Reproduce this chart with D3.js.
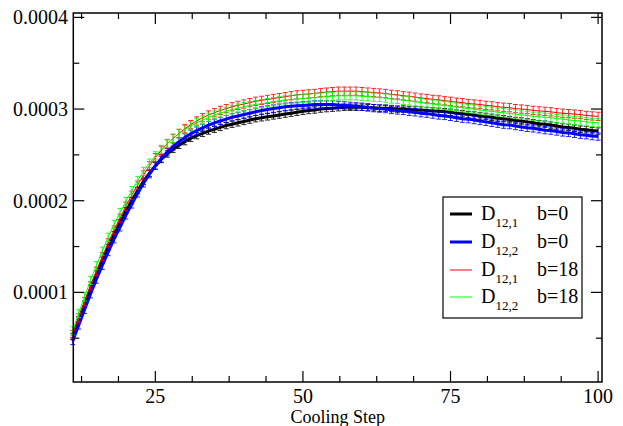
<!DOCTYPE html>
<html><head><meta charset="utf-8">
<script src="https://cdn.jsdelivr.net/npm/d3@7"></script>
<style>body{margin:0;background:#fff}svg{display:block}</style>
</head><body><svg id="c" width="623" height="426"></svg>
<script>
const FONT = "'Liberation Serif', 'DejaVu Serif', 'Times New Roman', Times, serif";
const UNIT = 1e-6;
const steps = d3.range(11, 101);
const d121_b0 = [52,70,87,104,120,135,149,163,176,189,
 200,211,221,230,238,245,251,256,260.5,264.5,
 268,271,273.5,276,278,280,282,283.5,285,286.5,
 288,289.5,290.5,291.5,292.5,293.5,294.5,295.5,296.5,297.5,
 298.5,299,300,300.5,301,301.5,302,302,302,302,
 301.5,301.5,301,301,300.5,300,300,299.5,299,299,
 298.5,298,297.5,297,296.5,295.5,295,294,293.5,292.5,
 292,291,290,289.5,288.5,287.5,287,286,285,284,
 283.5,282.5,281.5,280.5,280,279,278,277.5,276.5,276];
const d122_b0 = [47,64,81,98,114,129,144,158,171,184,
 196,208,219,229,238,246,253,259,264.5,269,
 273,276.5,279.5,282.5,285,287,289,291,292.5,294,
 295.5,297,298.5,299.5,300.5,301.5,302.5,303,303.5,304,
 304.5,305,305,305,305,304.5,304,303.5,303,302.5,
 302,301,300.5,300,299,298.5,298,297,296.5,295.5,
 295,294,293,292.5,291.5,290.5,289.5,289,288,287,
 286,285,284,283,282.5,281.5,280.5,279.5,279,278,
 277,276.5,275.5,274.5,274,273,272,271.5,270.5,270];
const d121_b18 = [54,72,90,107,123,139,154,168,181,194,
 206,217,228,238,247,255,262,268,273.5,278.5,
 283,287,290.5,293.5,296,298.5,300.5,302.5,304,305.5,
 307,308.5,309.5,310.5,311.5,312.5,313.5,314.5,315.5,316,
 316.5,317,318,318.5,319,319.5,319.5,319.5,319.5,319,
 318.5,318,317.5,317,316,315.5,314.5,314,313,312,
 311.5,310.5,310,309,308.5,307.5,307,306,305.5,305,
 304,303.5,302.5,302,301.5,300.5,300,299.5,298.5,298,
 297.5,297,296,295.5,295,294.5,294,293,292.5,292];
const d122_b18 = [58,77,95,113,129,145,160,174,187,199,
 211,222,232,241,249,256,262.5,268,273,277.5,
 281.5,285,288,291,293.5,295.5,297.5,299.5,301,302.5,
 304,305,306,307,308,309,310,310.5,311,311.5,
 312,312.5,313,313.5,314,314.5,314.5,314.5,314.5,314,
 313.5,313,312.5,312,311,310.5,309.5,309,308,307,
 306,305.5,304.5,304,303,302,301.5,300.5,300,299,
 298,297.5,296.5,296,295,294.5,293.5,293,292,291.5,
 291,290.5,289.5,289,288,287.5,287,286,285.5,285];
const errs = [3.5, 4, 4.5, 4.5];
const seriesNames = ["D12,1 b=0","D12,2 b=0","D12,1 b=18","D12,2 b=18"];
const legendSub = ["12,1","12,2","12,1","12,2"];
const legendB = ["b=0","b=0","b=18","b=18"];
const colors = ["#000000","#0000ff","#ff0000","#00ff00"];
const widths = [3, 3, 1, 1];
const xTicks = [25, 50, 75, 100];
const xMinor = [12.5,18.75,31.25,37.5,43.75,56.25,62.5,68.75,81.25,87.5,93.75];
const yTicks = [100, 200, 300, 400];
const yTickLabels = ["0.0001","0.0002","0.0003","0.0004"];
const yMinor = [50,150,250,350];
const xLabel = "Cooling Step";

const svg = d3.select("#c");
const L=73.3, R=602, T=13, B=382;
const x = d3.scaleLinear().domain([11.1, 100.66]).range([L, R]);
const y = d3.scaleLinear().domain([2.2, 404.8]).range([B, T]);

const all = [d121_b0, d122_b0, d121_b18, d122_b18];
const g = svg.append("g");
all.forEach((vals, si) => {
  const pts = steps.map((s,i)=>({x:s, v:vals[i]}));
  const eg = g.append("g").attr("stroke", colors[si]).attr("stroke-width",1).attr("fill","none").attr("opacity",0.85);
  pts.forEach(p=>{
    const x0=x(p.x), y1=y(p.v+errs[si]), y2=y(p.v-errs[si]);
    eg.append("line").attr("x1",x0).attr("x2",x0).attr("y1",y1).attr("y2",y2);
    eg.append("line").attr("x1",x0-2.5).attr("x2",x0+2.5).attr("y1",y1).attr("y2",y1);
    eg.append("line").attr("x1",x0-2.5).attr("x2",x0+2.5).attr("y1",y2).attr("y2",y2);
  });
  g.append("path").datum(pts).attr("fill","none").attr("stroke",colors[si]).attr("stroke-width",widths[si])
    .attr("d", d3.line().x(d=>x(d.x)).y(d=>y(d.v)));
});

// frame
svg.append("rect").attr("x",L).attr("y",T).attr("width",R-L).attr("height",B-T).attr("fill","none").attr("stroke","#000").attr("stroke-width",1.5);
const tk = svg.append("g").attr("stroke","#000").attr("stroke-width",1.2);
xTicks.forEach(t=>{ tk.append("line").attr("x1",x(t)).attr("x2",x(t)).attr("y1",B).attr("y2",B-11);
  tk.append("line").attr("x1",x(t)).attr("x2",x(t)).attr("y1",T).attr("y2",T+11); });
xMinor.forEach(t=>{ tk.append("line").attr("x1",x(t)).attr("x2",x(t)).attr("y1",B).attr("y2",B-6);
  tk.append("line").attr("x1",x(t)).attr("x2",x(t)).attr("y1",T).attr("y2",T+6); });
yTicks.forEach(t=>{ tk.append("line").attr("x1",L).attr("x2",L+11).attr("y1",y(t)).attr("y2",y(t));
  tk.append("line").attr("x1",R).attr("x2",R-11).attr("y1",y(t)).attr("y2",y(t)); });
yMinor.forEach(t=>{ tk.append("line").attr("x1",L).attr("x2",L+6).attr("y1",y(t)).attr("y2",y(t));
  tk.append("line").attr("x1",R).attr("x2",R-6).attr("y1",y(t)).attr("y2",y(t)); });

const txt = (sel)=>sel.append("text").attr("font-family",FONT).attr("fill","#000");
xTicks.forEach(t=>txt(svg).attr("x",x(t)).attr("y",403).attr("text-anchor","middle").attr("font-size",20).text(t));
yTicks.forEach((t,i)=>txt(svg).attr("x",68).attr("y",y(t)+7).attr("text-anchor","end").attr("font-size",20).text(yTickLabels[i]));
txt(svg).attr("x",(L+R)/2).attr("y",422.5).attr("text-anchor","middle").attr("font-size",18).text(xLabel);

// legend
const lg = svg.append("g");
lg.append("rect").attr("x",443).attr("y",197).attr("width",139).attr("height",121).attr("fill","#fff").attr("stroke","#000").attr("stroke-width",1.2);
const rowsY = [214, 242, 270, 297];
seriesNames.forEach((n,i)=>{
  lg.append("line").attr("x1",450).attr("x2",472).attr("y1",rowsY[i]).attr("y2",rowsY[i]).attr("stroke",colors[i]).attr("stroke-width",widths[i]);
  const t = txt(lg).attr("x",481).attr("y",rowsY[i]+6).attr("font-size",20);
  t.append("tspan").text("D");
  t.append("tspan").attr("font-size",13).attr("dy",7).text(legendSub[i]);
  txt(lg).attr("x",537).attr("y",rowsY[i]+6).attr("font-size",20).text(legendB[i]);
});
</script></body></html>
